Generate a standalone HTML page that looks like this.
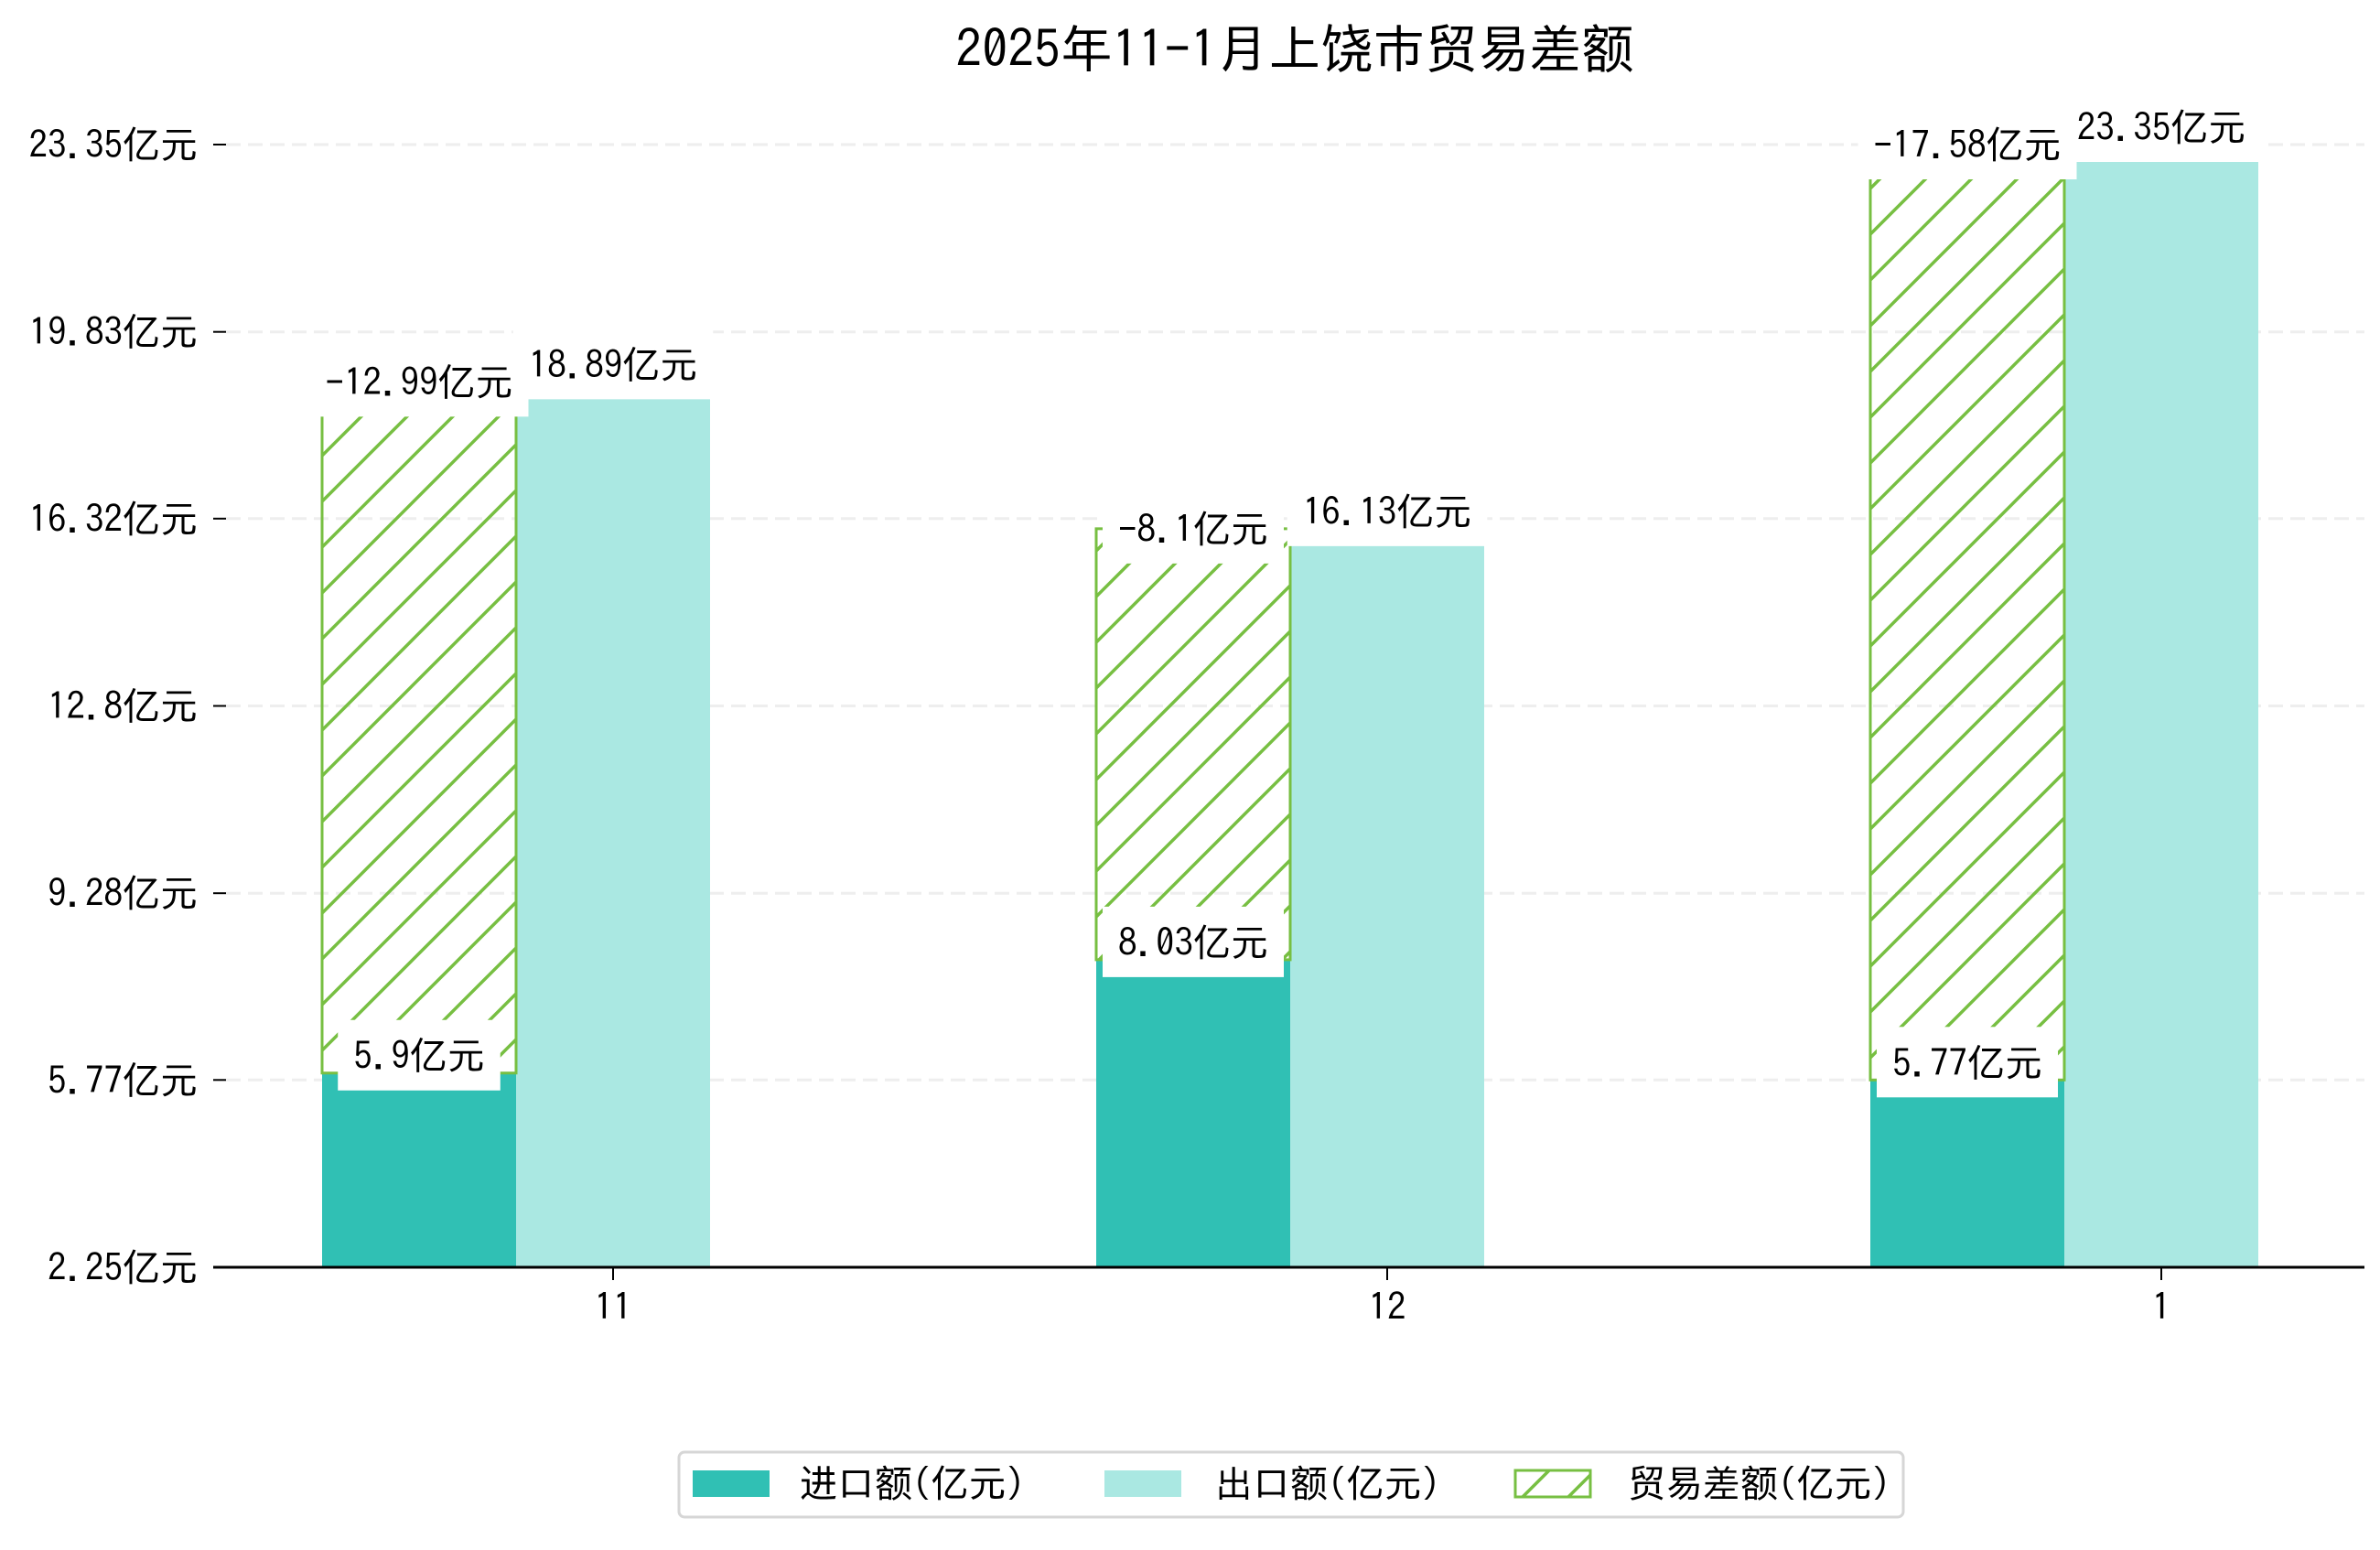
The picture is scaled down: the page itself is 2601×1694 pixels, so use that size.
<!DOCTYPE html>
<html><head><meta charset="utf-8">
<style>
html,body{margin:0;padding:0;background:#fff;}
svg text{font-family:"IPAGothic","WenQuanYi Zen Hei","Noto Sans CJK SC",sans-serif;fill:#000;}
</style></head>
<body>
<svg id="chart" width="2601" height="1689" viewBox="0 0 2601 1689" xmlns="http://www.w3.org/2000/svg">
<defs>
<pattern id="hatch" patternUnits="userSpaceOnUse" width="50" height="50">
<line x1="0" y1="50" x2="50" y2="0" stroke="#77bf42" stroke-width="3.5"/>
<line x1="-25" y1="25" x2="25" y2="-25" stroke="#77bf42" stroke-width="3.5"/>
<line x1="25" y1="75" x2="75" y2="25" stroke="#77bf42" stroke-width="3.5"/>
</pattern>
</defs>
<text x="1415" y="74" font-size="57" text-anchor="middle">2025年11-1月上饶市贸易差额</text>
<g id="grid"></g>
<g id="bars"></g>
<g id="labels"></g>
<g id="axes"></g>
<g>
<rect x="742" y="1587" width="1338" height="71" rx="6" fill="#fff" stroke="#d6d6d6" stroke-width="3"/>
<rect x="757" y="1607" width="84" height="29" fill="#30c0b4"/>
<text x="874" y="1636" font-size="41">进口额(亿元)</text>
<rect x="1207" y="1607" width="84" height="29" fill="#aae8e2"/>
<text x="1328" y="1636" font-size="41">出口额(亿元)</text>
<rect x="1656" y="1607" width="82" height="29" fill="url(#hatch)" stroke="#77bf42" stroke-width="3"/>
<text x="1779" y="1636" font-size="41">贸易差额(亿元)</text>
</g>
</svg>
<script>
const categories = ['11', '12', '1'];
const importValues = [5.9, 8.03, 5.77];
const exportValues = [18.89, 16.13, 23.35];
const balanceValues = [-12.99, -8.1, -17.58];
const yTickLabels = ['2.25', '5.77', '9.28', '12.8', '16.32', '19.83', '23.35'];

const NS = 'http://www.w3.org/2000/svg';
const yMin = 2.25, yMax = 23.35, yBottom = 1385, yTop = 158;
const plotLeft = 233, plotRight = 2584;
function y(v){ return yBottom - (v - yMin) / (yMax - yMin) * (yBottom - yTop); }
const catX0 = 670, catStep = 846;
function x(i){ return catX0 + i * catStep; }
const barW = 212;
function mk(tag, attrs, parent){
  const e = document.createElementNS(NS, tag);
  for (const k in attrs) e.setAttribute(k, attrs[k]);
  parent.appendChild(e);
  return e;
}
const grid = document.getElementById('grid');
const bars = document.getElementById('bars');
const labels = document.getElementById('labels');
const axes = document.getElementById('axes');

yTickLabels.forEach((t, i) => {
  const v = parseFloat(t);
  const yy = y(v);
  if (i > 0) {
    const g = mk('line', {x1: 247, x2: plotRight, y1: yy, y2: yy, stroke: '#eeeeee', 'stroke-width': 3, 'stroke-dasharray': '16,8'}, grid);
    
    
  }
  const tk = mk('line', {x1: 233, x2: 247, y1: yy, y2: yy, stroke: '#000', 'stroke-width': 2}, axes);
  
  
  const tl = mk('text', {x: 216, y: yy + 15, 'font-size': 41, 'text-anchor': 'end'}, axes);
  tl.textContent = t + '亿元';
  
  
});

function label(cx, top, txt, name){
  const r = mk('rect', {x: cx, y: top - 58, width: 10, height: 77, fill: '#fff'}, labels);
  
  
  const t = mk('text', {x: cx, y: top - 4, 'font-size': 41, 'text-anchor': 'middle'}, labels);
  t.textContent = txt;
  
  
  let w = 190;
  try { w = t.getComputedTextLength() + 34; } catch(e) {}
  r.setAttribute('x', cx - w/2);
  r.setAttribute('width', w);
}

categories.forEach((c, i) => {
  const cx = x(i);
  const ix = cx - barW * 1.5, ex = cx - barW / 2;
  const ib = mk('rect', {x: ix, y: y(importValues[i]), width: barW, height: yBottom - y(importValues[i]), fill: '#30c0b4'}, bars);
  
  
  const eb = mk('rect', {x: ex, y: y(exportValues[i]), width: barW, height: yBottom - y(exportValues[i]), fill: '#aae8e2'}, bars);
  
  
  const top = importValues[i] + Math.abs(balanceValues[i]);
  const hb = mk('rect', {x: ix, y: y(top), width: barW, height: y(importValues[i]) - y(top), fill: 'url(#hatch)', stroke: '#77bf42', 'stroke-width': 3}, bars);
  
  

  label(ex + barW/2, y(exportValues[i]), exportValues[i] + '亿元', 'export-value-label');
  label(ix + barW/2, y(top) + 19, balanceValues[i] + '亿元', 'balance-value-label');
  label(ix + barW/2, y(importValues[i]), importValues[i] + '亿元', 'import-value-label');

  const xt = mk('line', {x1: cx, x2: cx, y1: yBottom, y2: yBottom + 14, stroke: '#000', 'stroke-width': 2}, axes);
  
  
  const xl = mk('text', {x: cx, y: yBottom + 58, 'font-size': 41, 'text-anchor': 'middle'}, axes);
  xl.textContent = c;
  
  
});
const base = mk('line', {x1: plotLeft, x2: plotRight, y1: yBottom, y2: yBottom, stroke: '#000', 'stroke-width': 3}, axes);


</script>
</body></html>
